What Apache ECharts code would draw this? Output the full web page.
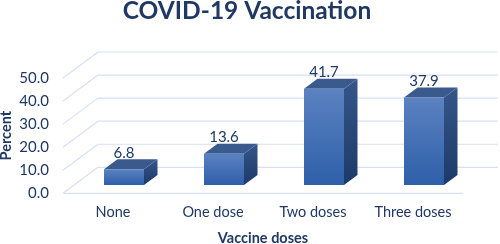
<!DOCTYPE html>
<html>
<head>
<meta charset="utf-8">
<style>html,body{margin:0;padding:0;background:#fff}#c{width:500px;height:244px}</style>
<script src="https://cdn.jsdelivr.net/npm/echarts@6/dist/echarts.min.js"></script>
</head>
<body>
<div id="c"></div>
<script>
const categories = ['None', 'One dose', 'Two doses', 'Three doses'];
const percents = [6.8, 13.6, 41.7, 37.9];
const gridLevels = [0, 10, 20, 30, 40, 50];
const titleText = 'COVID-19 Vaccination';
const xName = 'Vaccine doses';
const yName = 'Percent';

const ink = '#1f3864';
const gridColor = '#d6e1f3';
const font = 'Lato';
// Oblique projection: depth of the floor and of the bars
const floorDx = 35, floorDy = -26;
const barShiftX = 11, barShiftY = -8.3;
const barDx = 13.5, barDy = -10;
const barWidth = 40;

const chart = echarts.init(document.getElementById('c'), null, {renderer: 'canvas'});

function linear(c0, c1) {
  return {type: 'linear', x: 0, y: 0, x2: 0, y2: 1,
    colorStops: [{offset: 0, color: c0}, {offset: 1, color: c1}]};
}

function renderGrid(params, api) {
  const level = api.value(0);
  const y = api.coord(['None', level])[1];
  const coordSys = params.coordSys;
  const x0 = coordSys.x, x1 = coordSys.x + coordSys.width;
  const style = {stroke: gridColor, lineWidth: 1.2, fill: null};
  const children = [
    {type: 'line', shape: {x1: x0, y1: y, x2: x0 + floorDx, y2: y + floorDy}, style},
    {type: 'line', shape: {x1: x0 + floorDx, y1: y + floorDy, x2: x1 + floorDx, y2: y + floorDy}, style}
  ];
  if (level === 0) {
    children.push({type: 'line', shape: {x1: x0, y1: y, x2: x1, y2: y}, style});
  }
  return {type: 'group', children};
}

function renderBar(params, api) {
  const base = api.coord([api.value(0), 0]);
  const top = api.coord([api.value(0), api.value(1)]);
  const cx = base[0] + barShiftX;
  const l = cx - barWidth / 2, r = cx + barWidth / 2;
  const yb = base[1] + barShiftY, yt = top[1] + barShiftY;
  return {
    type: 'group',
    children: [
      {type: 'polygon', shape: {points: [[r, yt], [r + barDx, yt + barDy], [r + barDx, yb + barDy], [r, yb]]},
        style: {fill: linear('#36568a', '#1c3a68')}},
      {type: 'polygon', shape: {points: [[l, yt], [l + barDx, yt + barDy], [r + barDx, yt + barDy], [r, yt]]},
        style: {fill: '#3a5a8e'}},
      {type: 'rect', shape: {x: l, y: yt, width: barWidth, height: yb - yt},
        style: {fill: linear('#5b82c1', '#2e5fa9')}},
      {type: 'text', style: {
        text: api.value(1).toFixed(1), x: cx, y: yt + barDy - 6.5,
        align: 'center', verticalAlign: 'middle',
        font: '15px ' + font, fill: ink
      }}
    ]
  };
}

chart.setOption({
  animation: false,
  backgroundColor: '#fff',
  title: {
    text: titleText, left: 242, top: -6, textAlign: 'center',
    textStyle: {fontFamily: font, fontSize: 24.5, fontWeight: 'bold', color: ink}
  },
  grid: {left: 63, right: 37, top: 78, bottom: 50.7, containLabel: false, outerBoundsMode: 'none'},
  xAxis: {
    type: 'category', data: categories,
    axisLine: {show: false}, axisTick: {show: false}, splitLine: {show: false},
    axisLabel: {fontFamily: font, fontSize: 14.5, color: ink, margin: 12, interval: 0},
    name: xName, nameLocation: 'middle', nameGap: 38, nameMoveOverlap: false,
    nameTextStyle: {fontFamily: font, fontSize: 14.5, fontWeight: 'bold', color: ink}
  },
  yAxis: {
    type: 'value', min: 0, max: 50, interval: 10,
    axisLine: {show: false}, axisTick: {show: false}, splitLine: {show: false},
    axisLabel: {fontFamily: font, fontSize: 15, color: ink, margin: 14,
      formatter: v => v.toFixed(1)},
    name: yName, nameLocation: 'middle', nameGap: 49.5, nameRotate: 90, nameMoveOverlap: false,
    nameTextStyle: {fontFamily: font, fontSize: 14.5, fontWeight: 'bold', color: ink}
  },
  series: [
    {type: 'custom', renderItem: renderGrid, silent: true, z: 1,
      data: gridLevels.map(v => [v]), encode: {y: 0}, clip: false},
    {type: 'custom', renderItem: renderBar, silent: true, z: 2,
      data: categories.map((c, i) => [c, percents[i]]), encode: {x: 0, y: 1}, clip: false}
  ]
});
</script>
</body>
</html>
